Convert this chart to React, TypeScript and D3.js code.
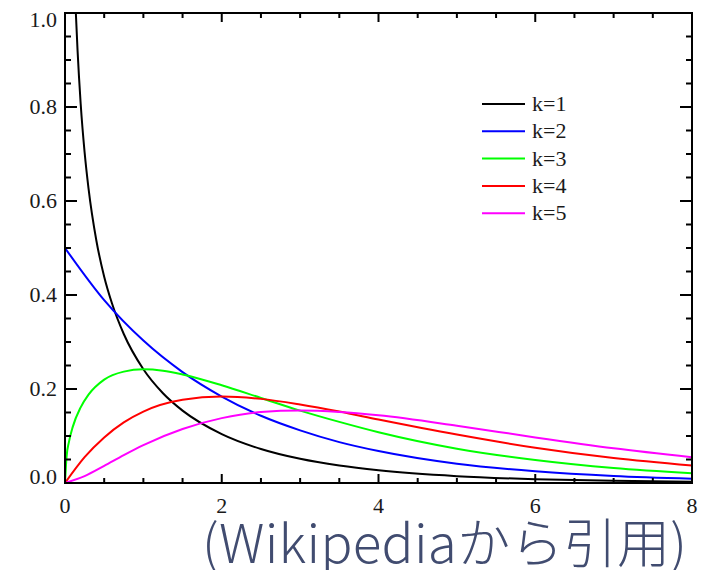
import { useEffect, useRef } from 'react';
import * as d3 from 'd3';

// values (chi-squared densities, k = 1..5)
const xs1 = [0.12, 0.14, 0.16, 0.2, 0.25, 0.3, 0.4, 0.5, 0.6, 0.75, 1, 1.25, 1.5, 2, 2.5, 3, 3.5, 4, 5, 6, 7, 8];
const k1 = [1.085, 0.994, 0.921, 0.807, 0.704, 0.627, 0.516, 0.439, 0.382, 0.317, 0.242, 0.191, 0.154, 0.104, 0.0723, 0.0514, 0.0371, 0.027, 0.0146, 0.0081, 0.0046, 0.0026];

const xs = [0, 0.5, 1, 1.5, 2, 2.5, 3, 3.5, 4, 5, 6, 7, 8];
const k2 = [0.5, 0.389, 0.303, 0.236, 0.184, 0.143, 0.112, 0.087, 0.068, 0.041, 0.025, 0.015, 0.0092];

const xs3 = [0, 0.02, 0.05, 0.1, 0.2, 0.3, 0.5, 0.75, 1, 1.25, 1.5, 2, 2.5, 3, 3.5, 4, 5, 6, 7, 8];
const k3 = [0, 0.056, 0.087, 0.12, 0.161, 0.188, 0.22, 0.237, 0.242, 0.239, 0.231, 0.208, 0.181, 0.154, 0.13, 0.108, 0.073, 0.049, 0.032, 0.021];

const xs45 = [0, 0.25, 0.5, 0.75, 1, 1.5, 2, 2.5, 3, 3.5, 4, 5, 6, 7, 8];
const k4 = [0, 0.055, 0.097, 0.129, 0.152, 0.177, 0.184, 0.179, 0.167, 0.152, 0.135, 0.103, 0.075, 0.053, 0.037];
const k5 = [0, 0.0147, 0.0366, 0.0594, 0.0807, 0.115, 0.138, 0.151, 0.154, 0.151, 0.144, 0.122, 0.097, 0.074, 0.055];

const seriesNames = ['k=1', 'k=2', 'k=3', 'k=4', 'k=5'];
const seriesColors = ['#000000', '#0000ff', '#00ff00', '#ff0000', '#ff00ff'];
const seriesX = [xs1, xs, xs3, xs45, xs45];
const seriesY = [k1, k2, k3, k4, k5];

const xTickLabels = [0, 2, 4, 6, 8];
const yTickLabels = [0, 0.2, 0.4, 0.6, 0.8, 1.0];
const caption = '(Wikipediaから引用)';

export default function App() {
  const svgRef = useRef<SVGSVGElement>(null);

  useEffect(() => {
    if (!svgRef.current) return;
    document.body.style.margin = '0';
    const svg = d3.select(svgRef.current);
    svg.selectAll('*').remove();

    const left = 65, right = 692, top = 13, bottom = 483;
    const x = d3.scaleLinear().domain([0, 8]).range([left, right]);
    const y = d3.scaleLinear().domain([0, 1]).range([bottom, top]);

    svg.append('defs').append('clipPath').attr('id', 'plot-clip')
      .append('rect').attr('x', left).attr('y', top).attr('width', right - left).attr('height', bottom - top);

    // curves
    const line = d3.line<[number, number]>()
      .x((d) => x(d[0]))
      .y((d) => y(d[1]))
      .curve(d3.curveMonotoneX);

    const curves = svg.append('g').attr('clip-path', 'url(#plot-clip)');
    seriesY.forEach((vals, i) => {
      const pts: [number, number][] = vals.map((v, j) => [seriesX[i][j], v]);
      curves.append('path')
        .attr('d', line(pts))
        .attr('fill', 'none')
        .attr('stroke', seriesColors[i])
        .attr('stroke-width', 2);
    });

    // ticks (inside, all four sides)
    const ticks = svg.append('g').attr('stroke', '#000').attr('stroke-width', 2);
    d3.range(0, 8.001, 0.5).forEach((v) => {
      const major = Math.abs(v % 2) < 1e-6;
      const len = major ? 9 : 5;
      ticks.append('line').attr('x1', x(v)).attr('x2', x(v)).attr('y1', bottom).attr('y2', bottom - len);
      ticks.append('line').attr('x1', x(v)).attr('x2', x(v)).attr('y1', top).attr('y2', top + len);
    });
    d3.range(0, 20.001, 1).forEach((n) => {
      const v = n * 0.05;
      const major = n % 4 === 0;
      const len = major ? 12 : 6;
      ticks.append('line').attr('x1', left).attr('x2', left + len).attr('y1', y(v)).attr('y2', y(v));
      ticks.append('line').attr('x1', right).attr('x2', right - len).attr('y1', y(v)).attr('y2', y(v));
    });

    svg.append('rect')
      .attr('x', left).attr('y', top)
      .attr('width', right - left).attr('height', bottom - top)
      .attr('fill', 'none').attr('stroke', '#000').attr('stroke-width', 2);

    // tick labels
    const font = 'Liberation Serif';
    svg.append('g').selectAll('text').data(xTickLabels).join('text')
      .attr('x', (d) => x(d)).attr('y', 513)
      .attr('text-anchor', 'middle')
      .style('font-family', font).attr('font-size', 22).attr('fill', '#1a1a1a')
      .text((d) => String(d));

    svg.append('g').selectAll('text').data(yTickLabels).join('text')
      .attr('x', 57)
      .attr('y', (d) => Math.min(bottom + 1, Math.max(top + 14, y(d) + 7)))
      .attr('text-anchor', 'end')
      .style('font-family', font).attr('font-size', 22).attr('fill', '#1a1a1a')
      .text((d) => d.toFixed(1));

    // legend
    const legend = svg.append('g').attr('transform', 'translate(482,104)');
    seriesNames.forEach((name, i) => {
      const row = legend.append('g').attr('transform', `translate(0,${i * 27.3})`);
      row.append('line').attr('x1', 0).attr('x2', 43).attr('y1', 0).attr('y2', 0)
        .attr('stroke', seriesColors[i]).attr('stroke-width', 2);
      row.append('text').attr('x', 50).attr('y', 7)
        .style('font-family', font).attr('font-size', 22).attr('fill', '#1a1a1a')
        .text(name);
    });

    // caption
    svg.append('text')
      .attr('x', 202).attr('y', 563)
      .attr('textLength', 485)
      .attr('font-family', 'Noto Sans CJK JP, Noto Sans, sans-serif')
      .attr('font-size', 53).attr('font-weight', 300)
      .attr('fill', '#414c70')
      .text(caption);
  }, []);

  return <svg ref={svgRef} width={714} height={570} style={{ display: 'block' }} />;
}
